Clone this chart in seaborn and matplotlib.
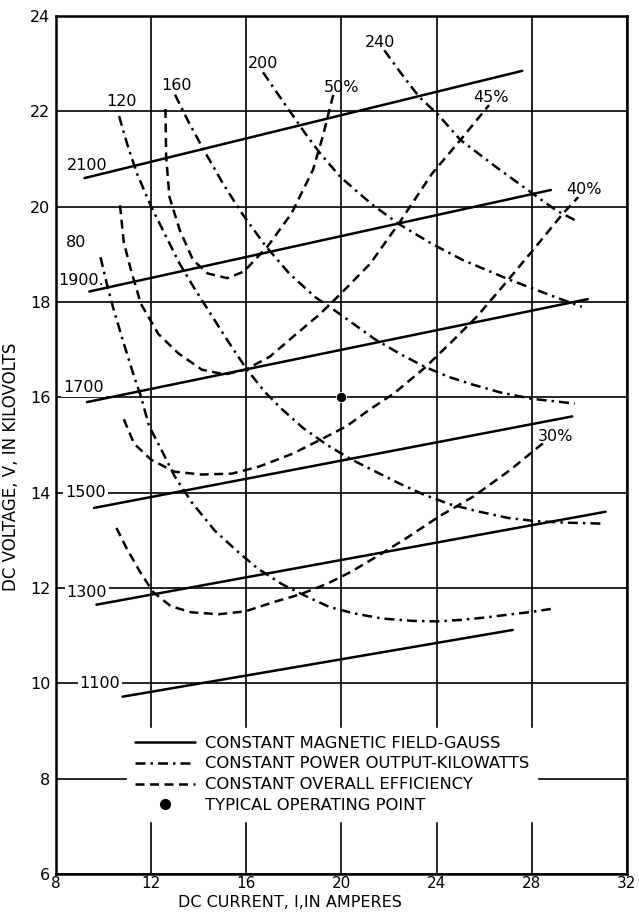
import numpy as np
import pandas as pd
import matplotlib
matplotlib.use("Agg")
import matplotlib.pyplot as plt
from matplotlib.lines import Line2D
import seaborn as sns

# constant magnetic field lines (gauss) - straight, start and end points
gauss_levels = [2100, 1900, 1700, 1500, 1300, 1100]
gauss_i_start = [9.2, 9.4, 9.3, 9.6, 9.7, 10.8]
gauss_v_start = [20.6, 18.22, 15.9, 13.68, 11.65, 9.72]
gauss_i_end = [27.6, 28.8, 30.35, 29.7, 31.1, 27.2]
gauss_v_end = [22.85, 20.35, 18.06, 15.6, 13.6, 11.12]
gauss_label_i = [9.3, 9.05, 9.15, 9.25, 9.3, 9.85]
gauss_label_v = [20.87, 18.45, 16.2, 14.0, 11.9, 10.0]

# constant power output curves (kilowatts)
p80_i = [9.87, 10.17, 10.43, 10.85, 11.28, 11.57, 11.91, 12.43, 12.98, 13.7, 14.68, 15.6, 16.5,
         17.5, 18.5, 19.5, 20.5, 21.7, 23.0, 24.0, 25.0, 26.0, 27.0, 28.0, 28.8]
p80_v = [18.94, 18.31, 17.83, 17.13, 16.44, 16.02, 15.4, 14.9, 14.35, 13.8, 13.2, 12.78, 12.4,
         12.08, 11.83, 11.6, 11.47, 11.36, 11.31, 11.3, 11.33, 11.38, 11.44, 11.5, 11.56]
p120_i = [10.65, 11.0, 11.4, 12.0, 12.6, 13.2, 13.8, 14.5, 15.2, 16.0, 16.8, 17.5, 18.4, 19.4,
          20.4, 21.4, 22.4, 23.5, 24.6, 25.8, 27.0, 28.2, 29.5, 31.0]
p120_v = [21.9, 21.3, 20.7, 20.0, 19.4, 18.8, 18.3, 17.75, 17.2, 16.6, 16.1, 15.75, 15.35, 15.0,
          14.7, 14.45, 14.2, 13.95, 13.75, 13.6, 13.47, 13.4, 13.37, 13.35]
p160_i = [13.0, 13.6, 14.2, 15.0, 15.8, 16.8, 17.8, 18.9, 19.5, 20.2, 21.4, 22.5, 23.5, 24.5,
          25.5, 26.7, 28.0, 29.8]
p160_v = [22.35, 21.75, 21.2, 20.5, 19.87, 19.18, 18.6, 18.1, 17.9, 17.65, 17.22, 16.9, 16.64,
          16.43, 16.27, 16.1, 15.97, 15.87]
p200_i = [16.7, 17.3, 17.9, 18.5, 19.1, 19.96, 21.25, 22.4, 23.8, 25.1, 27.1, 29.0, 30.1]
p200_v = [22.82, 22.38, 21.95, 21.52, 21.12, 20.62, 20.06, 19.64, 19.22, 18.88, 18.46, 18.1, 17.9]
p240_i = [21.8, 22.5, 23.27, 24.04, 25.0, 26.5, 28.05, 29.0, 29.95]
p240_v = [23.28, 22.8, 22.3, 21.94, 21.4, 20.83, 20.27, 19.93, 19.68]
power_labels = ["80", "120", "160", "200", "240"]
power_label_i = [8.85, 10.75, 13.05, 16.7, 21.6]
power_label_v = [19.25, 22.2, 22.55, 23.0, 23.45]

# constant overall efficiency curves
e50_i = [12.6, 12.63, 12.77, 13.2, 13.76, 14.37, 15.2, 15.9, 16.9, 17.9, 18.8, 19.2, 19.66]
e50_v = [22.05, 21.04, 20.2, 19.51, 18.88, 18.6, 18.5, 18.64, 19.17, 19.86, 20.77, 21.45, 22.36]
e45_i = [10.69, 10.85, 11.15, 11.57, 12.3, 13.15, 14.13, 15.1, 15.96, 16.98, 17.96, 19.1, 19.96,
         21.2, 22.4, 23.8, 25.0, 26.2]
e45_v = [20.03, 19.25, 18.67, 17.96, 17.33, 16.92, 16.58, 16.48, 16.58, 16.85, 17.27, 17.75, 18.17,
         18.8, 19.64, 20.69, 21.4, 22.13]
e40_i = [10.85, 11.28, 12.0, 12.98, 14.13, 15.4, 16.55, 17.96, 19.23, 20.2, 21.2, 22.2, 23.5, 24.6,
         25.7, 26.9, 28.05, 29.3, 29.95]
e40_v = [15.54, 15.03, 14.69, 14.44, 14.38, 14.4, 14.55, 14.82, 15.14, 15.39, 15.75, 16.08, 16.62,
         17.15, 17.7, 18.4, 19.09, 19.85, 20.2]
e30_i = [10.54, 10.97, 11.53, 12.09, 12.82, 13.68, 14.84, 15.96, 17.12, 18.28, 19.4, 20.4, 21.55,
         22.8, 24.1, 25.55, 27.1, 28.55]
e30_v = [13.26, 12.83, 12.34, 11.91, 11.62, 11.49, 11.45, 11.51, 11.7, 11.87, 12.09, 12.34, 12.68,
         13.07, 13.5, 13.92, 14.48, 15.07]
eff_labels = ["50%", "45%", "40%", "30%"]
eff_label_i = [20.0, 26.3, 30.2, 29.0]
eff_label_v = [22.5, 22.3, 20.35, 15.17]

# typical operating point
op_i = [20]
op_v = [16]

# build one long table for seaborn
rows = []
for lev, i0, v0, i1, v1 in zip(gauss_levels, gauss_i_start, gauss_v_start, gauss_i_end, gauss_v_end):
    rows += [("g%d" % lev, "field", i0, v0), ("g%d" % lev, "field", i1, v1)]
for name, ii, vv in [("p80", p80_i, p80_v), ("p120", p120_i, p120_v), ("p160", p160_i, p160_v),
                     ("p200", p200_i, p200_v), ("p240", p240_i, p240_v)]:
    rows += [(name, "power", a, b) for a, b in zip(ii, vv)]
for name, ii, vv in [("e50", e50_i, e50_v), ("e45", e45_i, e45_v), ("e40", e40_i, e40_v),
                     ("e30", e30_i, e30_v)]:
    rows += [(name, "eff", a, b) for a, b in zip(ii, vv)]
df = pd.DataFrame(rows, columns=["curve", "kind", "current", "voltage"])

sns.set_style("white")
plt.rcParams['font.family'] = ['DejaVu Sans']
plt.rcParams['text.color'] = 'black'
plt.rcParams['axes.labelcolor'] = 'black'
plt.rcParams['xtick.color'] = 'black'
plt.rcParams['ytick.color'] = 'black'

dash_dot = (4, 2, 1, 2)
dashed = (3.6, 2.2)

fig = plt.figure(figsize=(6.39, 9.13), dpi=100)
ax = fig.add_axes([56 / 639, 1 - 874 / 913, 571 / 639, 858 / 913])

sns.lineplot(data=df, x="current", y="voltage", units="curve", style="kind",
             dashes={"field": "", "power": dash_dot, "eff": dashed},
             estimator=None, sort=False, color="black", lw=1.8, legend=False, ax=ax)
sns.scatterplot(x=op_i, y=op_v, color="black", s=55, ax=ax, zorder=4)

ax.set_xlim(8, 32)
ax.set_ylim(6, 24)
ax.set_xticks(range(8, 33, 4))
ax.set_yticks(range(6, 25, 2))
ax.grid(True, color="black", lw=1.2)
ax.tick_params(length=0, labelsize=11.5, pad=4)
ax.tick_params(axis="x", labelsize=11, pad=1.5)
for s in ax.spines.values():
    s.set_color("black")
    s.set_linewidth(1.8)

ax.set_xlabel("DC CURRENT, I,IN AMPERES", fontsize=11.5)
ax.set_ylabel("DC VOLTAGE, V, IN KILOVOLTS", fontsize=12)
ax.xaxis.set_label_coords(0.41, -0.0245)
ax.yaxis.set_label_coords(-0.063, 0.475)

# curve labels
for lev, x, y in zip(gauss_levels, gauss_label_i, gauss_label_v):
    txt = str(lev) + ("." if lev == 1900 else "")
    ax.text(x, y, txt, ha="center", va="center", fontsize=11.5, zorder=1.5,
            bbox=dict(facecolor="white", edgecolor="none", pad=1.5))
for lab, x, y in zip(power_labels, power_label_i, power_label_v):
    ax.text(x, y, lab, ha="center", va="center", fontsize=11.5)
for lab, x, y in zip(eff_labels, eff_label_i, eff_label_v):
    ax.text(x, y, lab, ha="center", va="center", fontsize=11.5)

handles = [
    Line2D([], [], color="black", lw=1.8, ls="-"),
    Line2D([], [], color="black", lw=1.8, ls=(0, dash_dot)),
    Line2D([], [], color="black", lw=1.8, ls=(0, dashed)),
    Line2D([], [], color="black", marker="o", ls="", markersize=7),
]
labels = ["CONSTANT MAGNETIC FIELD-GAUSS", "CONSTANT POWER OUTPUT-KILOWATTS",
          "CONSTANT OVERALL EFFICIENCY", "TYPICAL OPERATING POINT"]
leg = ax.legend(handles, labels, loc="upper left", bbox_to_anchor=(0.125, 0.17),
                fontsize=11.8, handlelength=3.7, handletextpad=0.6, labelspacing=0.36,
                frameon=True, facecolor="white", edgecolor="white", framealpha=1,
                borderpad=0.45, borderaxespad=0)
leg.set_zorder(5)

fig.savefig("out.png", dpi=100)
